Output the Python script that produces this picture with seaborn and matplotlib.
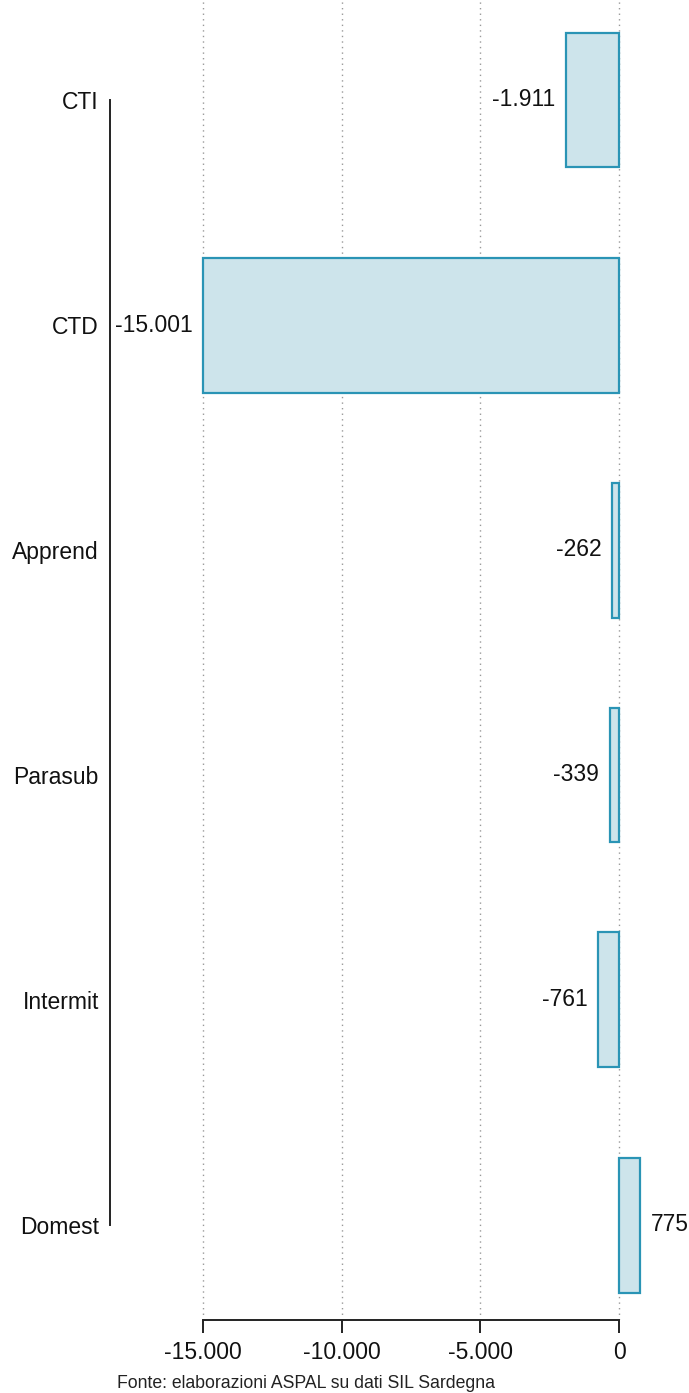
import matplotlib
matplotlib.use("Agg")
import matplotlib.pyplot as plt
import seaborn as sns
import pandas as pd

categories = ["CTI", "CTD", "Apprend", "Parasub", "Intermit", "Domest"]
values = [-1911, -15001, -262, -339, -761, 775]
xticks = [-15000, -10000, -5000, 0]
xtick_labels = ["-15.000", "-10.000", "-5.000", "0"]
caption = "Fonte: elaborazioni ASPAL su dati SIL Sardegna"

sns.set_theme(style="white")
plt.rcParams["font.family"] = ["Liberation Sans", "DejaVu Sans"]

W, H = 689, 1393
fig = plt.figure(figsize=(W / 100, H / 100), dpi=100)
# axes from x=110..689 px, y=0..1320 px
ax = fig.add_axes([110 / W, (H - 1320) / H, (W - 110) / W, 1320 / H])

df = pd.DataFrame({"cat": categories, "val": values})
sns.barplot(data=df, x="val", y="cat", orient="h", color="#cde4eb",
            edgecolor="#2a94b5", linewidth=1.6, width=0.6, saturation=1, ax=ax)

px = 416 / 15000.0  # pixels per unit
ax.set_xlim(-15000 - 93 / px, 0 + 70 / px)
ax.set_ylim(5 + 95 / 225, -100 / 225)

ax.set_xticks(xticks)
ax.set_xticklabels(xtick_labels, fontsize=16.5, color="#111111")
ax.set_xlabel("")
ax.set_ylabel("")
ax.tick_params(axis="x", length=9, width=1.4, color="#222222", pad=6, direction="out", bottom=True)
ax.tick_params(axis="y", length=0, pad=8, labelsize=16.5, labelcolor="#111111")

ax.xaxis.grid(True, linestyle=(0, (1, 3)), color="#999999", linewidth=1.0)
ax.yaxis.grid(False)
ax.set_axisbelow(True)

for s in ["top", "right"]:
    ax.spines[s].set_visible(False)
ax.spines["left"].set_bounds(0, 5)
ax.spines["left"].set_color("#222222")
ax.spines["left"].set_linewidth(1.4)
ax.spines["bottom"].set_bounds(-15000, 0)
ax.spines["bottom"].set_color("#222222")
ax.spines["bottom"].set_linewidth(1.4)

def fmt(v):
    return f"{v:,}".replace(",", ".")

ax.bar_label(ax.containers[0], labels=[fmt(v) for v in values], padding=7.5,
             fontsize=16.5, color="#111111")

fig.text(117 / W, 1 - 1383 / H, caption, fontsize=12.7, color="#222222",
         ha="left", va="center")

fig.savefig("out.png", dpi=100)
